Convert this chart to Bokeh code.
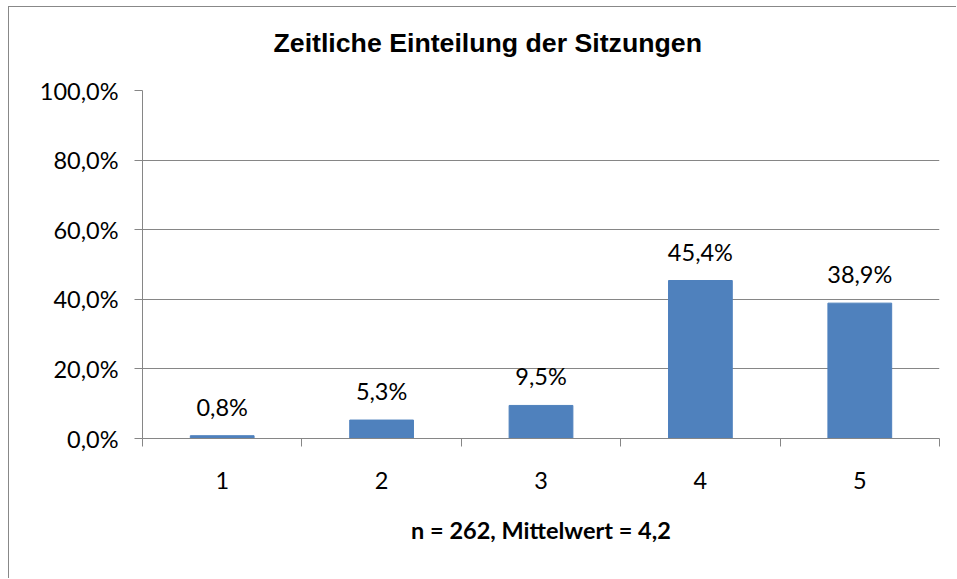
from bokeh.plotting import figure
from bokeh.models import FixedTicker, Range1d, ColumnDataSource, LinearAxis
from bokeh.embed import file_html
from bokeh.resources import INLINE
from bokeh.core.properties import value

# ---- data ----
categories = ["1", "2", "3", "4", "5"]
cat_pos = [1, 2, 3, 4, 5]
percent = [0.8, 5.3, 9.5, 45.4, 38.9]
value_labels = ["0,8%", "5,3%", "9,5%", "45,4%", "38,9%"]
ytick_values = [0, 20, 40, 60, 80, 100]
ytick_labels = ["0,0%", "20,0%", "40,0%", "60,0%", "80,0%", "100,0%"]
title_text = "Zeitliche Einteilung der Sitzungen"
xlabel_text = "n = 262, Mittelwert = 4,2"

GRAY = "#868686"
BLUE = "#4F81BD"
FONT = "Lato"

p = figure(width=948, height=572, output_backend="svg", toolbar_location=None,
           x_range=Range1d(0.5, 5.5), y_range=Range1d(0, 100),
           min_border_left=133, min_border_right=18, min_border_top=83,
           min_border_bottom=141, title=title_text)
p.styles = {"margin-left": "8px", "margin-top": "6px",
            "border-left": "1px solid #888888", "border-top": "1px solid #888888"}

xa = p.below[0]
ya = p.left[0]

# invisible spacer axis above the frame (pushes the title upward)
spacer = LinearAxis(ticker=FixedTicker(ticks=[3], minor_ticks=[]))
spacer.axis_line_color = None
spacer.major_tick_line_color = None
spacer.minor_tick_line_color = None
spacer.major_tick_out = 28
spacer.major_tick_in = 0
spacer.minor_tick_out = 0
spacer.minor_tick_in = 0
spacer.major_label_standoff = 0
spacer.major_label_overrides = {3: ""}
spacer.major_label_text_font_size = "1px"
spacer.major_label_text_alpha = 0
p.add_layout(spacer, "above")

p.title.text_font = "Liberation Sans"
p.title.text_font_size = "26.7px"
p.title.text_font_style = "bold"
p.title.align = "left"
p.title.offset = 131
p.title.standoff = 10
p.title.text_color = "#000000"

p.outline_line_color = None
p.background_fill_color = "white"
p.border_fill_color = "white"

src = ColumnDataSource(dict(x=cat_pos, top=percent, label=value_labels))
p.vbar(x="x", top="top", width=0.4, source=src, fill_color=BLUE, line_color=BLUE)
p.text(x="x", y="top", text="label", source=src, text_font=value(FONT),
       text_font_size="23.5px", text_align="center", text_baseline="alphabetic",
       y_offset=-29, text_color="#000000")

# x axis
xa.ticker = FixedTicker(ticks=cat_pos, minor_ticks=[0.5, 1.5, 2.5, 3.5, 4.5, 5.5])
xa.major_label_overrides = {c: s for c, s in zip(cat_pos, categories)}
xa.major_tick_out = 0
xa.major_tick_in = 0
xa.minor_tick_out = 8
xa.minor_tick_in = 0
xa.minor_tick_line_color = GRAY
xa.axis_line_color = GRAY
xa.major_label_text_font = FONT
xa.major_label_text_font_size = "23.5px"
xa.major_label_text_color = "#000000"
xa.major_label_standoff = 25
xa.axis_label = xlabel_text
xa.axis_label_text_font = FONT
xa.axis_label_text_font_size = "23.5px"
xa.axis_label_text_font_style = "bold"
xa.axis_label_text_color = "#000000"
xa.axis_label_standoff = 24

# y axis
ya.ticker = FixedTicker(ticks=ytick_values, minor_ticks=[])
ya.major_label_overrides = {v: s for v, s in zip(ytick_values, ytick_labels)}
ya.major_tick_out = 8
ya.major_tick_in = 0
ya.major_tick_line_color = GRAY
ya.axis_line_color = GRAY
ya.major_label_text_font = FONT
ya.major_label_text_font_size = "23.5px"
ya.major_label_text_color = "#000000"
ya.major_label_standoff = 16

p.xgrid.grid_line_color = None
p.ygrid.grid_line_color = GRAY
p.ygrid.ticker = FixedTicker(ticks=ytick_values)

open("out.html", "w").write(file_html(p, INLINE))
